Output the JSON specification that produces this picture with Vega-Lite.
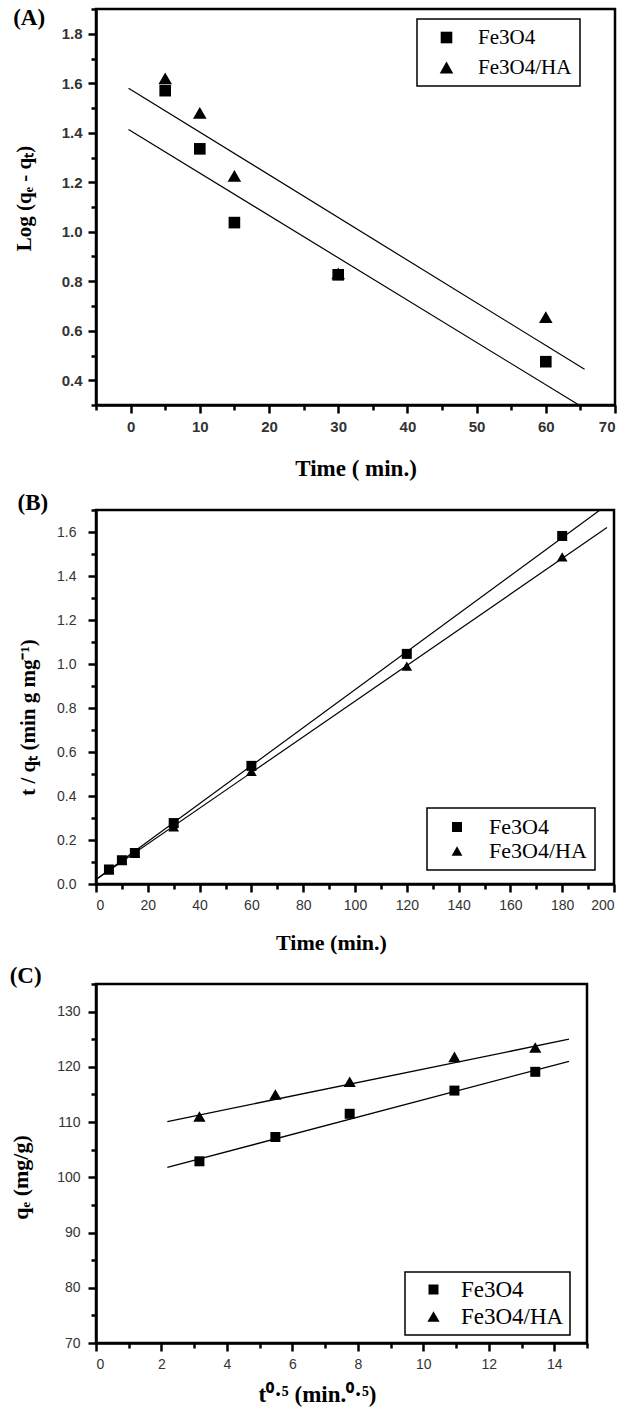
{
  "$schema": "https://vega.github.io/schema/vega-lite/v6.json",
  "background": "white",
  "padding": {"left": 8, "top": 5, "right": 0, "bottom": 5},
  "spacing": 8,
  "config": {
    "view": {"stroke": "black", "strokeWidth": 2.5},
    "axis": {"grid": false, "domainColor": "black", "domainWidth": 2.5, "tickColor": "black", "tickWidth": 2.5, "tickSize": 8,
             "labelFont": "Liberation Sans", "labelFontSize": 14, "labelColor": "#333", "labelPadding": 6,
             "titleFont": "Liberation Serif", "titleFontWeight": "bold", "titleFontSize": 22, "titleColor": "black"},
    "legend": {"strokeColor": "black", "strokeWidth": 1.5, "padding": 8, "symbolFillColor": "black", "symbolStrokeColor": "black", "symbolStrokeWidth": 0,
               "labelFont": "Liberation Serif", "labelFontSize": 21, "labelColor": "black", "labelOffset": 21, "symbolOffset": 11, "rowPadding": 8},
    "title": {"font": "Liberation Serif", "fontSize": 23, "fontWeight": "bold", "color": "black", "anchor": "start", "frame": "bounds"}
  },
  "datasets": {
    "a_pts": [
      {"series": "Fe3O4", "time": 5, "val": 1.57},
      {"series": "Fe3O4", "time": 10, "val": 1.335},
      {"series": "Fe3O4", "time": 15, "val": 1.037},
      {"series": "Fe3O4", "time": 30, "val": 0.826},
      {"series": "Fe3O4", "time": 60, "val": 0.475},
      {"series": "Fe3O4/HA", "time": 5, "val": 1.62},
      {"series": "Fe3O4/HA", "time": 10, "val": 1.48},
      {"series": "Fe3O4/HA", "time": 15, "val": 1.226},
      {"series": "Fe3O4/HA", "time": 30, "val": 0.832},
      {"series": "Fe3O4/HA", "time": 60, "val": 0.655}
    ],
    "a_fit": [
      {"series": "Fe3O4", "time": -0.3, "val": 1.413},
      {"series": "Fe3O4", "time": 64.9, "val": 0.298},
      {"series": "Fe3O4/HA", "time": -0.3, "val": 1.58},
      {"series": "Fe3O4/HA", "time": 65.6, "val": 0.444}
    ],
    "b_pts": [
      {"series": "Fe3O4", "time": 5, "val": 0.066},
      {"series": "Fe3O4", "time": 10, "val": 0.108},
      {"series": "Fe3O4", "time": 15, "val": 0.141},
      {"series": "Fe3O4", "time": 30, "val": 0.277},
      {"series": "Fe3O4", "time": 60, "val": 0.537},
      {"series": "Fe3O4", "time": 120, "val": 1.046},
      {"series": "Fe3O4", "time": 180, "val": 1.582},
      {"series": "Fe3O4/HA", "time": 5, "val": 0.064},
      {"series": "Fe3O4/HA", "time": 10, "val": 0.107},
      {"series": "Fe3O4/HA", "time": 15, "val": 0.139},
      {"series": "Fe3O4/HA", "time": 30, "val": 0.26},
      {"series": "Fe3O4/HA", "time": 60, "val": 0.512},
      {"series": "Fe3O4/HA", "time": 120, "val": 0.99},
      {"series": "Fe3O4/HA", "time": 180, "val": 1.487}
    ],
    "b_fit": [
      {"series": "Fe3O4", "time": 0, "val": 0.02},
      {"series": "Fe3O4", "time": 194.6, "val": 1.7},
      {"series": "Fe3O4/HA", "time": 0, "val": 0.02},
      {"series": "Fe3O4/HA", "time": 197.3, "val": 1.62}
    ],
    "c_pts": [
      {"series": "Fe3O4", "t05": 3.16, "val": 102.9},
      {"series": "Fe3O4", "t05": 5.48, "val": 107.3},
      {"series": "Fe3O4", "t05": 7.75, "val": 111.5},
      {"series": "Fe3O4", "t05": 10.95, "val": 115.7},
      {"series": "Fe3O4", "t05": 13.42, "val": 119.1},
      {"series": "Fe3O4/HA", "t05": 3.16, "val": 111.0},
      {"series": "Fe3O4/HA", "t05": 5.48, "val": 115.0},
      {"series": "Fe3O4/HA", "t05": 7.75, "val": 117.3},
      {"series": "Fe3O4/HA", "t05": 10.95, "val": 121.8},
      {"series": "Fe3O4/HA", "t05": 13.42, "val": 123.5}
    ],
    "c_fit": [
      {"series": "Fe3O4", "t05": 2.18, "val": 101.8},
      {"series": "Fe3O4", "t05": 14.45, "val": 121.0},
      {"series": "Fe3O4/HA", "t05": 2.18, "val": 110.1},
      {"series": "Fe3O4/HA", "t05": 14.45, "val": 125.0}
    ]
  },
  "vconcat": [
    {
      "title": {"text": "(A)", "offset": -22},
      "width": 519,
      "height": 396,
      "layer": [
        {
          "data": {"name": "a_fit"},
          "mark": {"type": "line", "color": "black", "strokeWidth": 1.2},
          "encoding": {
            "x": {"field": "time", "type": "quantitative", "scale": {"domain": [-5, 70], "nice": false, "zero": false},
                  "axis": {"orient": "bottom", "values": [-5, 5, 15, 25, 35, 45, 55, 65], "labels": false, "title": null, "domain": false, "tickSize": 5}},
            "y": {"field": "val", "type": "quantitative", "scale": {"domain": [0.3, 1.9], "nice": false, "zero": false},
                  "axis": {"orient": "left", "values": [0.3, 0.5, 0.7, 0.9, 1.1, 1.3, 1.5, 1.7, 1.9], "labels": false, "title": null, "domain": false, "tickSize": 5}},
            "detail": {"field": "series"}
          }
        },
        {
          "data": {"name": "a_pts"},
          "mark": {"type": "point", "filled": true, "color": "black", "opacity": 1},
          "encoding": {
            "x": {"field": "time", "type": "quantitative", "scale": {"domain": [-5, 70], "nice": false, "zero": false},
                  "axis": {"orient": "bottom", "values": [0, 10, 20, 30, 40, 50, 60, 70], "format": "d", "title": "Time ( min.)", "titleFontSize": 23, "labelFontWeight": "bold", "labelFontSize": 15, "titlePadding": 23}},
            "y": {"field": "val", "type": "quantitative", "scale": {"domain": [0.3, 1.9], "nice": false, "zero": false},
                  "axis": {"orient": "left", "values": [0.4, 0.6, 0.8, 1.0, 1.2, 1.4, 1.6, 1.8], "format": ".1f", "title": "Log (qₑ - qₜ)", "titleFontSize": 21, "labelFontWeight": "bold", "labelFontSize": 15, "labelPadding": 6, "titlePadding": 27, "titleY": 189}},
            "shape": {"field": "series", "type": "nominal", "scale": {"domain": ["Fe3O4", "Fe3O4/HA"], "range": ["square", "triangle-up"]},
                      "legend": {"title": null, "orient": "none", "legendX": 321, "legendY": 10}},
            "size": {"field": "series", "type": "nominal", "scale": {"domain": ["Fe3O4", "Fe3O4/HA"], "range": [135, 185]},
                      "legend": {"title": null, "orient": "none", "legendX": 321, "legendY": 10}}
          }
        }
      ],
      "resolve": {"axis": {"x": "independent", "y": "independent"}}
    },
    {
      "title": {"text": "(B)", "offset": -7},
      "width": 518,
      "height": 374,
      "layer": [
        {
          "data": {"name": "b_fit"},
          "mark": {"type": "line", "color": "black", "strokeWidth": 1.2},
          "encoding": {
            "x": {"field": "time", "type": "quantitative", "scale": {"domain": [0, 200], "nice": false, "zero": false},
                  "axis": {"orient": "bottom", "values": [10, 30, 50, 70, 90, 110, 130, 150, 170, 190], "labels": false, "title": null, "domain": false, "tickSize": 5}},
            "y": {"field": "val", "type": "quantitative", "scale": {"domain": [0, 1.7], "nice": false, "zero": false},
                  "axis": {"orient": "left", "values": [0.1, 0.3, 0.5, 0.7, 0.9, 1.1, 1.3, 1.5, 1.7], "labels": false, "title": null, "domain": false, "tickSize": 5}},
            "detail": {"field": "series"}
          }
        },
        {
          "data": {"name": "b_pts"},
          "mark": {"type": "point", "filled": true, "color": "black", "opacity": 1},
          "encoding": {
            "x": {"field": "time", "type": "quantitative", "scale": {"domain": [0, 200], "nice": false, "zero": false},
                  "axis": {"orient": "bottom", "values": [0, 20, 40, 60, 80, 100, 120, 140, 160, 180, 200], "format": "d", "title": "Time (min.)", "titlePadding": 20, "titleX": 235}},
            "y": {"field": "val", "type": "quantitative", "scale": {"domain": [0, 1.7], "nice": false, "zero": false},
                  "axis": {"orient": "left", "values": [0, 0.2, 0.4, 0.6, 0.8, 1.0, 1.2, 1.4, 1.6], "format": ".1f", "title": "t / qₜ  (min g mg⁻¹)", "titleFontSize": 21, "labelPadding": 12, "titlePadding": 18, "titleY": 207}},
            "shape": {"field": "series", "type": "nominal", "scale": {"domain": ["Fe3O4", "Fe3O4/HA"], "range": ["square", "triangle-up"]},
                      "legend": {"title": null, "orient": "none", "legendX": 331, "legendY": 298, "labelFontSize": 22, "rowPadding": 2}},
            "size": {"field": "series", "type": "nominal", "scale": {"domain": ["Fe3O4", "Fe3O4/HA"], "range": [100, 115]},
                      "legend": {"title": null, "orient": "none", "legendX": 331, "legendY": 298, "labelFontSize": 22, "rowPadding": 2}}
          }
        }
      ],
      "resolve": {"axis": {"x": "independent", "y": "independent"}}
    },
    {
      "title": {"text": "(C)", "offset": -5},
      "width": 491,
      "height": 359,
      "layer": [
        {
          "data": {"name": "c_fit"},
          "mark": {"type": "line", "color": "black", "strokeWidth": 1.3},
          "encoding": {
            "x": {"field": "t05", "type": "quantitative", "scale": {"domain": [0, 15], "nice": false, "zero": false},
                  "axis": {"orient": "bottom", "values": [1, 3, 5, 7, 9, 11, 13, 15], "labels": false, "title": null, "domain": false, "tickSize": 5}},
            "y": {"field": "val", "type": "quantitative", "scale": {"domain": [70, 135], "nice": false, "zero": false},
                  "axis": {"orient": "left", "values": [75, 85, 95, 105, 115, 125, 135], "labels": false, "title": null, "domain": false, "tickSize": 5}},
            "detail": {"field": "series"}
          }
        },
        {
          "data": {"name": "c_pts"},
          "mark": {"type": "point", "filled": true, "color": "black", "opacity": 1},
          "encoding": {
            "x": {"field": "t05", "type": "quantitative", "scale": {"domain": [0, 15], "nice": false, "zero": false},
                  "axis": {"orient": "bottom", "values": [0, 2, 4, 6, 8, 10, 12, 14], "format": "d", "title": "t⁰·⁵  (min.⁰·⁵)", "titleFontSize": 23, "titlePadding": 12, "titleX": 221}},
            "y": {"field": "val", "type": "quantitative", "scale": {"domain": [70, 135], "nice": false, "zero": false},
                  "axis": {"orient": "left", "values": [70, 80, 90, 100, 110, 120, 130], "format": "d", "title": "qₑ (mg/g)", "labelPadding": 8, "titlePadding": 24, "titleY": 193}},
            "shape": {"field": "series", "type": "nominal", "scale": {"domain": ["Fe3O4", "Fe3O4/HA"], "range": ["square", "triangle-up"]},
                      "legend": {"title": null, "orient": "none", "legendX": 309, "legendY": 288, "labelFontSize": 23, "labelOffset": 16, "rowPadding": 3, "padding": 6}},
            "size": {"field": "series", "type": "nominal", "scale": {"domain": ["Fe3O4", "Fe3O4/HA"], "range": [100, 150]},
                      "legend": {"title": null, "orient": "none", "legendX": 309, "legendY": 288, "labelFontSize": 23, "labelOffset": 16, "rowPadding": 3, "padding": 6}}
          }
        }
      ],
      "resolve": {"axis": {"x": "independent", "y": "independent"}}
    }
  ],
  "resolve": {"scale": {"shape": "independent", "size": "independent"}, "legend": {"shape": "independent", "size": "independent"}}
}
